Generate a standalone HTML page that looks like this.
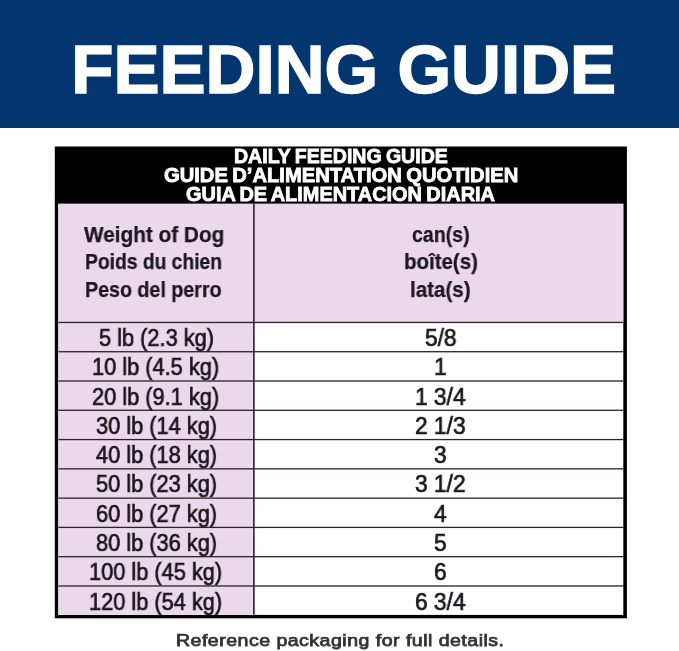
<!DOCTYPE html>
<html><head><meta charset="utf-8">
<style>
html,body{margin:0;padding:0;}
body{width:679px;height:651px;position:relative;overflow:hidden;background:#fff;font-family:"Liberation Sans",sans-serif;}
.abs{position:absolute;white-space:nowrap;line-height:1;transform-origin:0 0;will-change:transform;}
.box{position:absolute;}
#banner{left:0;top:0;width:679px;height:127.7px;background:#03366f;}
</style></head><body>
<div class="box" id="banner"></div>
<svg style="position:absolute;left:0;top:0" width="679" height="128" viewBox="0 0 679 128"><text x="71.3" y="93" font-family="'Liberation Sans', sans-serif" font-size="68.5" font-weight="bold" fill="#fff" stroke="#fff" stroke-width="1.5" textLength="544.8" lengthAdjust="spacingAndGlyphs">FEEDING GUIDE</text></svg>
<svg style="position:absolute;left:0;top:0" width="679" height="651" viewBox="0 0 679 651">
<rect x="54.8" y="146.5" width="572.1" height="471.8" fill="#000"/>
<rect x="58.3" y="203.8" width="565" height="411.1" fill="#fff"/>
<rect x="58.3" y="203.8" width="195.6" height="411.1" fill="#ead9ea"/>
<rect x="253.9" y="203.8" width="369.4" height="118.6" fill="#ead9ea"/>
<rect x="253.1" y="203.8" width="1.6" height="411.1" fill="#2b2130"/>
<rect x="58.3" y="321.80" width="565" height="1.3" fill="#2b2130"/>
<rect x="58.3" y="351.08" width="565" height="1.3" fill="#2b2130"/>
<rect x="58.3" y="380.36" width="565" height="1.3" fill="#2b2130"/>
<rect x="58.3" y="409.64" width="565" height="1.3" fill="#2b2130"/>
<rect x="58.3" y="438.92" width="565" height="1.3" fill="#2b2130"/>
<rect x="58.3" y="468.20" width="565" height="1.3" fill="#2b2130"/>
<rect x="58.3" y="497.48" width="565" height="1.3" fill="#2b2130"/>
<rect x="58.3" y="526.76" width="565" height="1.3" fill="#2b2130"/>
<rect x="58.3" y="556.04" width="565" height="1.3" fill="#2b2130"/>
<rect x="58.3" y="585.32" width="565" height="1.3" fill="#2b2130"/>
</svg>
<div class="abs" id="h1" style="left:233.69px;top:147px;font-weight:bold;word-spacing:-1.2px;font-size:19.35px;-webkit-text-stroke-width:0.8px;color:#fff;transform:scaleX(1.0110);">DAILY FEEDING GUIDE</div>
<div class="abs" id="h2" style="left:163.68px;top:166px;font-weight:bold;word-spacing:-1.2px;font-size:19.35px;-webkit-text-stroke-width:0.8px;color:#fff;transform:scaleX(1.0430);">GUIDE D’ALIMENTATION QUOTIDIEN</div>
<div class="abs" id="h3" style="left:186.48px;top:185px;font-weight:bold;word-spacing:-1.2px;font-size:19.35px;-webkit-text-stroke-width:0.8px;color:#fff;transform:scaleX(1.0306);">GUIA DE ALIMENTACION DIARIA</div>
<div class="abs" id="g1" style="left:84.00px;top:225px;font-weight:bold;font-size:21.31px;-webkit-text-stroke-width:0.25px;color:#1d1520;transform:scaleX(0.9744);">Weight of Dog</div>
<div class="abs" id="g2" style="left:85.37px;top:252px;font-weight:bold;font-size:21.31px;-webkit-text-stroke-width:0.25px;color:#1d1520;transform:scaleX(0.9040);">Poids du chien</div>
<div class="abs" id="g3" style="left:85.35px;top:280px;font-weight:bold;font-size:21.31px;-webkit-text-stroke-width:0.25px;color:#1d1520;transform:scaleX(0.9226);">Peso del perro</div>
<div class="abs" id="g4" style="left:411.61px;top:225px;font-weight:bold;font-size:21.31px;-webkit-text-stroke-width:0.25px;color:#1d1520;transform:scaleX(0.9180);">can(s)</div>
<div class="abs" id="g5" style="left:403.50px;top:252px;font-weight:bold;font-size:21.31px;-webkit-text-stroke-width:0.25px;color:#1d1520;transform:scaleX(0.9619);">boîte(s)</div>
<div class="abs" id="g6" style="left:410.09px;top:280px;font-weight:bold;font-size:21.31px;-webkit-text-stroke-width:0.25px;color:#1d1520;transform:scaleX(0.9653);">lata(s)</div>
<div class="abs" id="foot" style="left:175.53px;top:633px;letter-spacing:0.4px;font-size:16.8px;-webkit-text-stroke-width:0.75px;color:#333;transform:scaleX(1.1663);">Reference packaging for full details.</div>
<div class="abs" id="l0" style="left:98.72px;top:326px;font-size:24.66px;-webkit-text-stroke-width:0.7px;color:#1a151c;transform:scaleX(0.8831);">5 lb (2.3 kg)</div>
<div class="abs" id="l1" style="left:92.20px;top:355px;font-size:24.66px;-webkit-text-stroke-width:0.7px;color:#1a151c;transform:scaleX(0.8831);">10 lb (4.5 kg)</div>
<div class="abs" id="l2" style="left:92.43px;top:385px;font-size:24.66px;-webkit-text-stroke-width:0.7px;color:#1a151c;transform:scaleX(0.8831);">20 lb (9.1 kg)</div>
<div class="abs" id="l3" style="left:95.74px;top:414px;font-size:24.66px;-webkit-text-stroke-width:0.7px;color:#1a151c;transform:scaleX(0.8831);">30 lb (14 kg)</div>
<div class="abs" id="l4" style="left:95.85px;top:443px;font-size:24.66px;-webkit-text-stroke-width:0.7px;color:#1a151c;transform:scaleX(0.8831);">40 lb (18 kg)</div>
<div class="abs" id="l5" style="left:95.74px;top:472px;font-size:24.66px;-webkit-text-stroke-width:0.7px;color:#1a151c;transform:scaleX(0.8831);">50 lb (23 kg)</div>
<div class="abs" id="l6" style="left:95.52px;top:502px;font-size:24.66px;-webkit-text-stroke-width:0.7px;color:#1a151c;transform:scaleX(0.8831);">60 lb (27 kg)</div>
<div class="abs" id="l7" style="left:95.63px;top:531px;font-size:24.66px;-webkit-text-stroke-width:0.7px;color:#1a151c;transform:scaleX(0.8831);">80 lb (36 kg)</div>
<div class="abs" id="l8" style="left:89.22px;top:560px;font-size:24.66px;-webkit-text-stroke-width:0.7px;color:#1a151c;transform:scaleX(0.8831);">100 lb (45 kg)</div>
<div class="abs" id="l9" style="left:89.22px;top:590px;font-size:24.66px;-webkit-text-stroke-width:0.7px;color:#1a151c;transform:scaleX(0.8831);">120 lb (54 kg)</div>
<div class="abs" id="r0" style="left:424.74px;top:326px;font-size:24.66px;-webkit-text-stroke-width:0.7px;color:#1a151c;transform:scaleX(0.9212);">5/8</div>
<div class="abs" id="r1" style="left:433.84px;top:355px;font-size:24.66px;-webkit-text-stroke-width:0.7px;color:#1a151c;transform:scaleX(0.9212);">1</div>
<div class="abs" id="r2" style="left:414.61px;top:385px;font-size:24.66px;-webkit-text-stroke-width:0.7px;color:#1a151c;transform:scaleX(0.9212);">1 3/4</div>
<div class="abs" id="r3" style="left:415.07px;top:414px;font-size:24.66px;-webkit-text-stroke-width:0.7px;color:#1a151c;transform:scaleX(0.9212);">2 1/3</div>
<div class="abs" id="r4" style="left:434.18px;top:443px;font-size:24.66px;-webkit-text-stroke-width:0.7px;color:#1a151c;transform:scaleX(0.9212);">3</div>
<div class="abs" id="r5" style="left:415.30px;top:472px;font-size:24.66px;-webkit-text-stroke-width:0.7px;color:#1a151c;transform:scaleX(0.9212);">3 1/2</div>
<div class="abs" id="r6" style="left:434.18px;top:502px;font-size:24.66px;-webkit-text-stroke-width:0.7px;color:#1a151c;transform:scaleX(0.9212);">4</div>
<div class="abs" id="r7" style="left:434.18px;top:531px;font-size:24.66px;-webkit-text-stroke-width:0.7px;color:#1a151c;transform:scaleX(0.9212);">5</div>
<div class="abs" id="r8" style="left:433.95px;top:560px;font-size:24.66px;-webkit-text-stroke-width:0.7px;color:#1a151c;transform:scaleX(0.9212);">6</div>
<div class="abs" id="r9" style="left:414.84px;top:590px;font-size:24.66px;-webkit-text-stroke-width:0.7px;color:#1a151c;transform:scaleX(0.9212);">6 3/4</div>
</body></html>
